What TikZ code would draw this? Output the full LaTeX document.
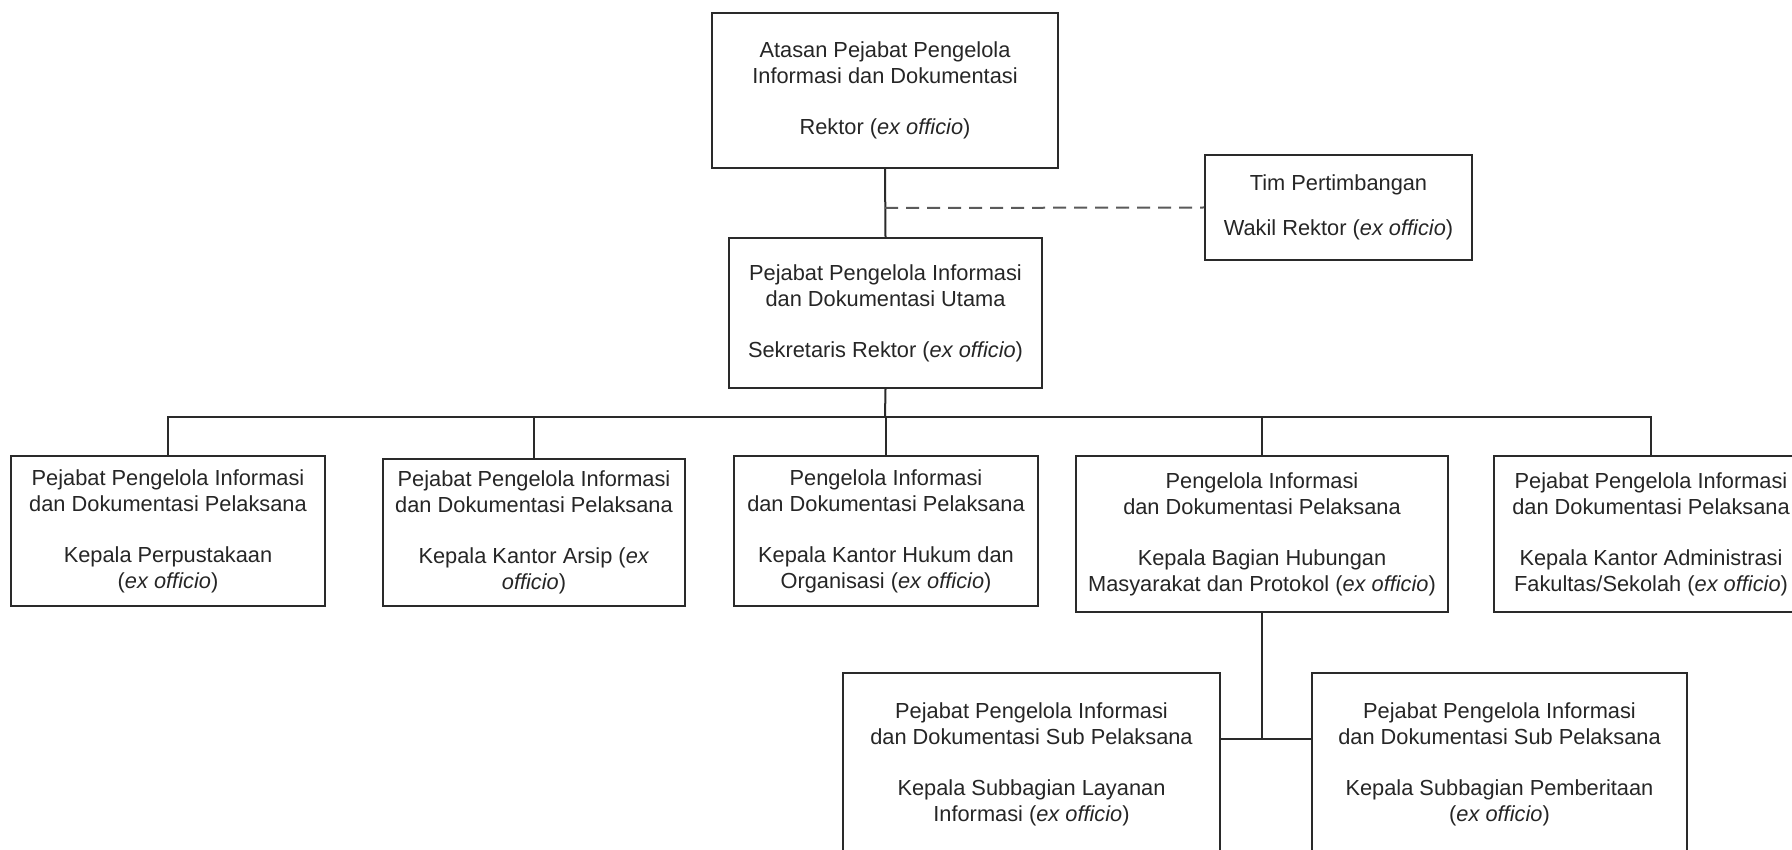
\documentclass[tikz,border=0pt]{standalone}
\usepackage{fontspec}
\setmainfont{Liberation Sans}
\definecolor{ink}{HTML}{2A2A2A}
\definecolor{dashgray}{HTML}{5A5A5A}
\newcommand{\eo}{\textit{ex officio}}
\begin{document}
\begin{tikzpicture}[x=1pt,y=-1pt,
  box/.style={draw=ink, line width=2pt, rectangle, inner sep=0pt, align=center,
    text=black!85, font=\fontsize{21.8pt}{26pt}\selectfont},
  conn/.style={draw=ink, line width=2pt},
  dconn/.style={draw=dashgray, line width=2pt, dash pattern=on 13pt off 8pt}]
\useasboundingbox (0,0) rectangle (1792,850);
\clip (0,0) rectangle (1792,850);
\fill[white] (0,0) rectangle (1792,850);

\node[box, minimum width=346pt, minimum height=155pt] (top) at (885,90.5)
  {Atasan Pejabat Pengelola\\Informasi dan Dokumentasi\\[25pt]Rektor (\eo)};
\node[box, minimum width=267pt, minimum height=105pt] (tim) at (1338.5,207.5)
  {Tim Pertimbangan\\[19pt]Wakil Rektor (\eo)};
\node[box, minimum width=313pt, minimum height=150pt] (main) at (885.5,313)
  {Pejabat Pengelola Informasi\\dan Dokumentasi Utama\\[25pt]Sekretaris Rektor (\eo)};

\node[box, minimum width=314pt, minimum height=150pt] (b1) at (168,531)
  {Pejabat Pengelola Informasi\\dan Dokumentasi Pelaksana\\[25pt]Kepala Perpustakaan\\(\eo)};
\node[box, minimum width=302pt, minimum height=147pt] (b2) at (534,532.5)
  {Pejabat Pengelola Informasi\\dan Dokumentasi Pelaksana\\[25pt]Kepala Kantor Arsip (\textit{ex}\\\textit{officio})};
\node[box, minimum width=304pt, minimum height=150pt] (b3) at (886,531)
  {Pengelola Informasi\\dan Dokumentasi Pelaksana\\[25pt]Kepala Kantor Hukum dan\\Organisasi (\eo)};
\node[box, minimum width=372pt, minimum height=156pt] (b4) at (1262,534)
  {Pengelola Informasi\\dan Dokumentasi Pelaksana\\[25pt]Kepala Bagian Hubungan\\Masyarakat dan Protokol (\eo)};
\node[box, minimum width=314pt, minimum height=156pt] (b5) at (1651,534)
  {Pejabat Pengelola Informasi\\dan Dokumentasi Pelaksana\\[25pt]Kepala Kantor Administrasi\\Fakultas/Sekolah (\eo)};

\node[box, minimum width=377pt, minimum height=183pt] (s1) at (1031.5,764.5)
  {Pejabat Pengelola Informasi\\dan Dokumentasi Sub Pelaksana\\[25pt]Kepala Subbagian Layanan\\Informasi (\eo)};
\node[box, minimum width=375pt, minimum height=183pt] (s2) at (1499.5,764.5)
  {Pejabat Pengelola Informasi\\dan Dokumentasi Sub Pelaksana\\[25pt]Kepala Subbagian Pemberitaan\\(\eo)};

% connectors
\draw[conn] (top.south) -- (main.north);
\coordinate (dj) at (885,208);
\draw[dconn] (dj) -- (tim.west);
\coordinate (bus) at (885,417);
\draw[conn] (main.south) -- (bus);
\draw[conn] (b1.north) -- (b1.north |- bus) -- (b5.north |- bus) -- (b5.north);
\draw[conn] (b2.north) -- (b2.north |- bus);
\draw[conn] (b3.north) -- (b3.north |- bus);
\draw[conn] (b4.north) -- (b4.north |- bus);
\coordinate (sj) at (1262,739);
\draw[conn] (b4.south) -- (sj);
\draw[conn] (s1.east |- sj) -- (s2.west |- sj);
\end{tikzpicture}
\end{document}
